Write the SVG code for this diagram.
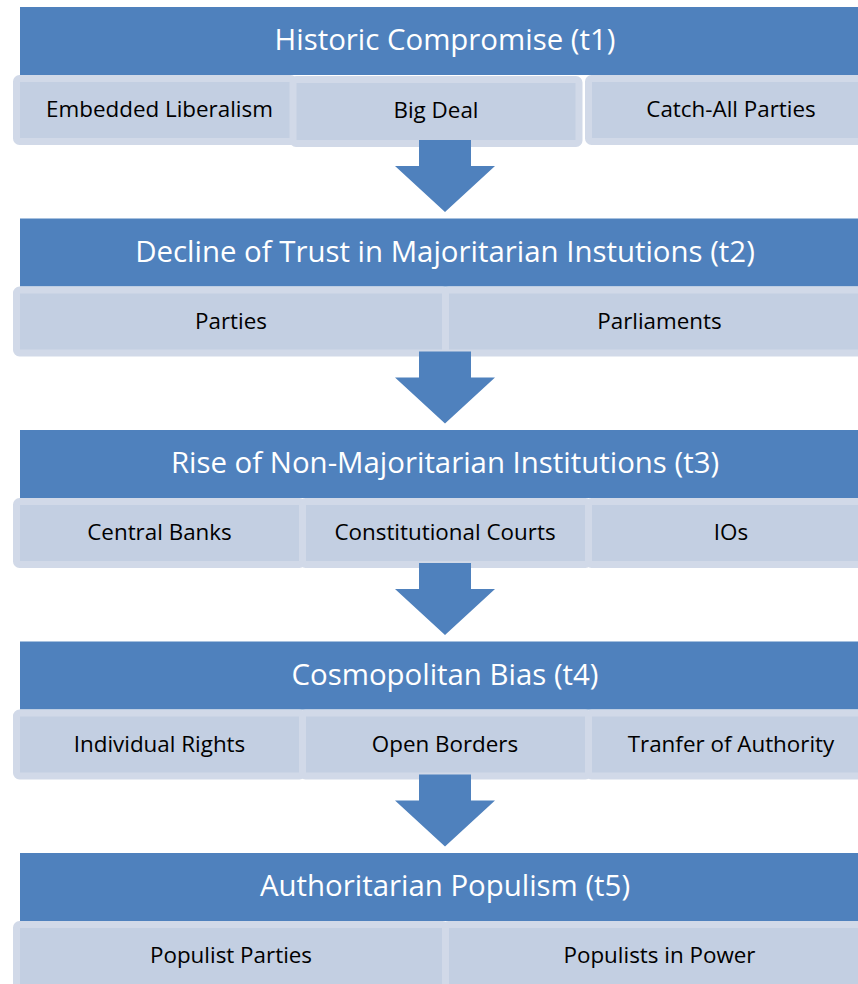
<svg xmlns="http://www.w3.org/2000/svg" width="858" height="984" viewBox="0 0 858 984">
  <style>
    .hdr { fill: #4f81bd; }
    .sub { fill: #c3cfe2; stroke: #d1d9e8; stroke-width: 7; }
    .arrow { fill: #4f81bd; }
    .ht { font-family: "Open Sans", "Liberation Sans", sans-serif; font-size: 29.4px; fill: #ffffff; text-anchor: middle; }
    .st { font-family: "Open Sans", "Liberation Sans", sans-serif; font-size: 22.4px; fill: #000000; text-anchor: middle; }
  </style>
  <rect width="858" height="984" fill="#ffffff"/>

  <!-- stage 1 -->
  <g id="stage1">
    <rect class="hdr" x="20" y="7" width="845" height="68"/>
    <text class="ht" x="445" y="50">Historic Compromise (t1)</text>
  </g>
  <g id="embedded-liberalism">
    <rect class="sub" x="16.5" y="78.5" width="277" height="63" rx="3"/>
    <text class="st" x="159.5" y="117">Embedded Liberalism</text>
  </g>
  <g id="catch-all-parties">
    <rect class="sub" x="588.5" y="78.5" width="280" height="63" rx="3"/>
    <text class="st" x="731" y="117">Catch-All Parties</text>
  </g>
  <g id="big-deal">
    <rect class="sub" x="293" y="79.5" width="286" height="64" rx="3"/>
    <text class="st" x="436" y="118">Big Deal</text>
  </g>

  <!-- stage 2 -->
  <g id="stage2">
    <rect class="hdr" x="20" y="218.5" width="845" height="68"/>
    <text class="ht" x="445" y="261.5">Decline of Trust in Majoritarian Instutions (t2)</text>
  </g>
  <g id="parties">
    <rect class="sub" x="16.5" y="290" width="429" height="63" rx="3"/>
    <text class="st" x="231" y="328.5">Parties</text>
  </g>
  <g id="parliaments">
    <rect class="sub" x="445.5" y="290" width="423" height="63" rx="3"/>
    <text class="st" x="659.5" y="328.5">Parliaments</text>
  </g>

  <!-- stage 3 -->
  <g id="stage3">
    <rect class="hdr" x="20" y="430" width="845" height="68"/>
    <text class="ht" x="445" y="473">Rise of Non-Majoritarian Institutions (t3)</text>
  </g>
  <g id="central-banks">
    <rect class="sub" x="16.5" y="501.5" width="286" height="63" rx="3"/>
    <text class="st" x="159.5" y="540">Central Banks</text>
  </g>
  <g id="constitutional-courts">
    <rect class="sub" x="302.5" y="501.5" width="286" height="63" rx="3"/>
    <text class="st" x="445" y="540">Constitutional Courts</text>
  </g>
  <g id="ios">
    <rect class="sub" x="588.5" y="501.5" width="280" height="63" rx="3"/>
    <text class="st" x="731" y="540">IOs</text>
  </g>

  <!-- stage 4 -->
  <g id="stage4">
    <rect class="hdr" x="20" y="641.5" width="845" height="68"/>
    <text class="ht" x="445" y="684.5">Cosmopolitan Bias (t4)</text>
  </g>
  <g id="individual-rights">
    <rect class="sub" x="16.5" y="713" width="286" height="63" rx="3"/>
    <text class="st" x="159.5" y="751.5">Individual Rights</text>
  </g>
  <g id="open-borders">
    <rect class="sub" x="302.5" y="713" width="286" height="63" rx="3"/>
    <text class="st" x="445" y="751.5">Open Borders</text>
  </g>
  <g id="transfer-of-authority">
    <rect class="sub" x="588.5" y="713" width="280" height="63" rx="3"/>
    <text class="st" x="731" y="751.5">Tranfer of Authority</text>
  </g>

  <!-- stage 5 -->
  <g id="stage5">
    <rect class="hdr" x="20" y="853" width="845" height="68"/>
    <text class="ht" x="445" y="896">Authoritarian Populism (t5)</text>
  </g>
  <g id="populist-parties">
    <rect class="sub" x="16.5" y="924.5" width="429" height="63" rx="3"/>
    <text class="st" x="231" y="963">Populist Parties</text>
  </g>
  <g id="populists-in-power">
    <rect class="sub" x="445.5" y="924.5" width="423" height="63" rx="3"/>
    <text class="st" x="659.5" y="963">Populists in Power</text>
  </g>

  <!-- block arrows between stages -->
  <g id="connectors">
    <path class="arrow" d="M419,140 H471 V166 H495 L445,212 L395,166 H419 Z"/>
    <path class="arrow" d="M419,351.5 H471 V377.5 H495 L445,423.5 L395,377.5 H419 Z"/>
    <path class="arrow" d="M419,563 H471 V589 H495 L445,635 L395,589 H419 Z"/>
    <path class="arrow" d="M419,774.5 H471 V800.5 H495 L445,846.5 L395,800.5 H419 Z"/>
  </g>
</svg>
